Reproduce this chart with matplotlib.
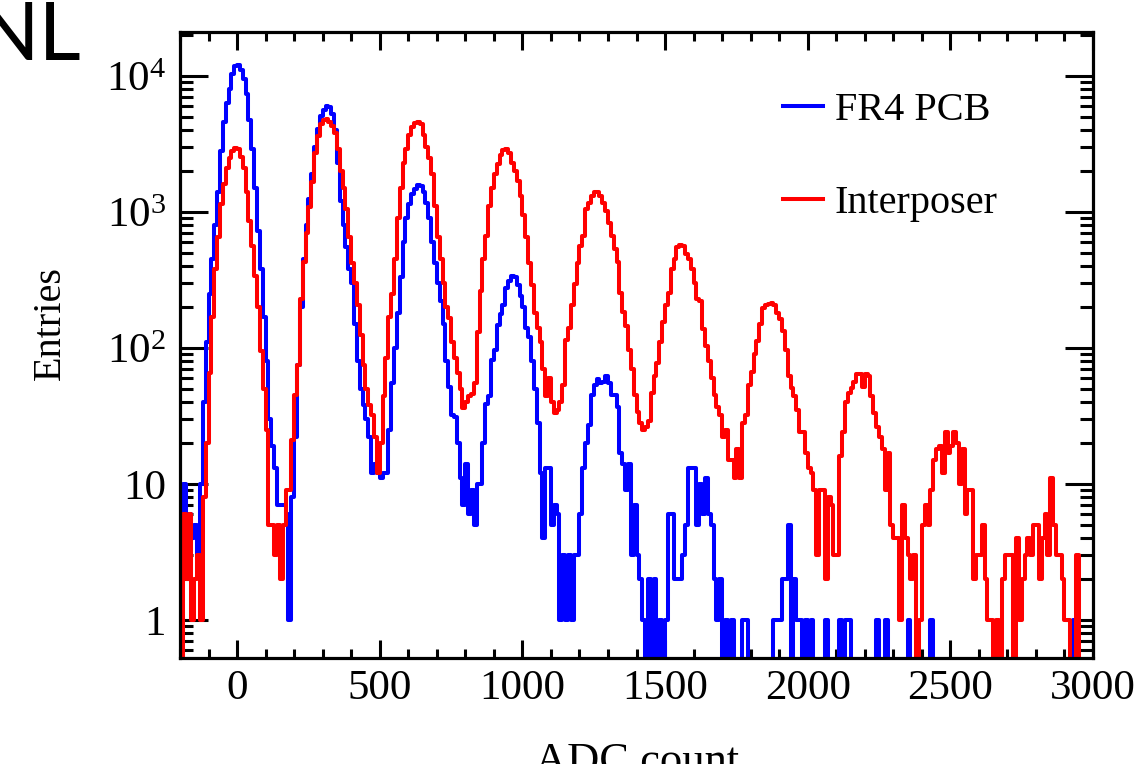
import numpy as np
import matplotlib
matplotlib.use("Agg")
import matplotlib.pyplot as plt
from matplotlib.ticker import MultipleLocator, LogLocator, NullFormatter

plt.rcParams['font.family'] = ['Liberation Serif', 'DejaVu Serif']
plt.rcParams['mathtext.fontset'] = 'custom'
plt.rcParams['mathtext.rm'] = 'Liberation Serif'
plt.rcParams['mathtext.it'] = 'Liberation Serif:italic'

# histogram binning (ADC count), 10 counts per bin
bin_edges = np.arange(-200, 3001, 10)

# entries per bin, one row = 100 ADC counts
fr4_counts = [
    2, 10, 3, 6, 4, 5, 3, 10, 40, 110,                      # -200
    250, 450, 800, 1400, 2800, 4600, 6300, 8000, 10300, 11800,  # -100
    12100, 11000, 9500, 7300, 4700, 2900, 1500, 720, 380, 170,  # 0
    80, 30, 19, 13, 7, 7, 7, 6, 1, 8,                       # 100
    22, 75, 200, 450, 800, 1250, 1900, 3000, 4100, 5100,    # 200
    5600, 6000, 5900, 5200, 4000, 2300, 1200, 800, 550, 380,  # 300
    300, 150, 80, 50, 38, 30, 22, 12, 14, 12,               # 400
    11, 12, 12, 25, 55, 100, 180, 330, 600, 900,            # 500
    1150, 1350, 1480, 1580, 1560, 1400, 1170, 900, 600, 420,  # 600
    300, 220, 150, 80, 52, 32, 31, 20, 11, 7,               # 700
    14, 6, 9, 5, 10, 10, 20, 39, 44, 81,                    # 800
    97, 147, 178, 208, 275, 310, 340, 330, 290, 240,        # 900
    200, 140, 120, 80, 50, 28, 12, 4, 13, 13,               # 1000
    5, 7, 6, 1, 3, 1, 3, 1, 3, 3,                           # 1100
    6, 13, 20, 27, 45, 53, 59, 55, 56, 62,                  # 1200
    55, 45, 45, 37, 17, 14, 9, 14, 3, 7,                    # 1300
    3, 2, 1, 0, 2, 0, 2, 0, 1, 0,                           # 1400
    1, 6, 6, 2, 2, 2, 3, 5, 13, 13,                         # 1500
    13, 5, 10, 6, 11, 6, 5, 2, 1, 2,                        # 1600
    0, 1, 0, 1, 0, 0, 0, 1, 1, 0,                           # 1700
    0, 0, 0, 0, 0, 0, 0, 0, 1, 1,                           # 1800
    1, 2, 2, 5, 0, 2, 1, 1, 0, 1,                           # 1900
    0, 1, 0, 0, 0, 0, 1, 0, 0, 0,                           # 2000
    0, 1, 0, 1, 1, 0, 0, 0, 0, 0,                           # 2100
    0, 0, 0, 0, 1, 0, 0, 1, 0, 0,                           # 2200
    0, 0, 0, 0, 0, 1, 0, 0, 0, 0,                           # 2300
    0, 0, 0, 1, 0, 0, 0, 0, 0, 0,                           # 2400
    0, 0, 0, 0, 0, 0, 0, 0, 0, 0,                           # 2500
    0, 0, 0, 0, 0, 0, 0, 0, 0, 0,                           # 2600
    0, 0, 0, 0, 0, 0, 0, 0, 0, 0,                           # 2700
    0, 0, 0, 0, 0, 0, 0, 0, 0, 0,                           # 2800
    0, 0, 0, 1, 0, 0, 0, 0, 0, 0,                           # 2900
]

interposer_counts = [
    0, 6, 2, 6, 1, 2, 3, 1, 8, 20,                          # -200
    65, 170, 380, 650, 1150, 1600, 2100, 2500, 2780, 2950,  # -100
    2900, 2550, 2100, 1400, 850, 560, 340, 200, 95, 50,     # 0
    25, 5, 5, 3, 5, 2, 5, 9, 9, 21,                         # 100
    45, 75, 230, 430, 700, 1080, 1650, 2700, 3600, 4400,    # 200
    4750, 4800, 4600, 4300, 3800, 2900, 2000, 1500, 1050, 650,  # 300
    420, 300, 205, 125, 75, 50, 38, 32, 22, 12,             # 400
    20, 44, 85, 170, 250, 450, 900, 1500, 2300, 2900,       # 500
    3700, 4200, 4500, 4560, 4400, 3700, 3000, 2500, 1900, 1100,  # 600
    650, 450, 300, 200, 167, 110, 85, 65, 50, 36,           # 700
    40, 44, 46, 55, 130, 260, 450, 670, 1100, 1500,         # 800
    1900, 2250, 2600, 2850, 2900, 2700, 2300, 2000, 1700, 1300,  # 900
    950, 650, 420, 290, 180, 140, 110, 70, 44, 60,          # 1000
    40, 33, 35, 40, 53, 115, 141, 205, 297, 420,            # 1100
    560, 670, 1050, 1170, 1310, 1390, 1390, 1310, 1170, 1020,  # 1200
    830, 660, 530, 425, 255, 183, 145, 97, 70, 45,          # 1300
    34, 28, 25, 26, 29, 47, 62, 78, 110, 156,               # 1400
    205, 255, 380, 450, 550, 575, 560, 490, 450, 380,       # 1500
    300, 228, 220, 138, 103, 80, 60, 45, 37, 32,            # 1600
    22, 25, 15, 15, 11, 18, 11, 28, 32, 53,                 # 1700
    66, 90, 112, 149, 198, 205, 210, 215, 205, 180,         # 1800
    162, 133, 97, 62, 51, 44, 35, 24, 24, 17,               # 1900
    13, 12, 9, 3, 9, 9, 2, 8, 7, 3,                         # 2000
    3, 16, 24, 40, 47, 51, 56, 64, 64, 52,                  # 2100
    64, 62, 44, 33, 26, 22, 18, 9, 17, 5,                   # 2200
    4, 4, 1, 7, 4, 3, 2, 3, 0, 1,                           # 2300
    5, 7, 5, 9, 15, 18, 19, 12, 24, 17,                     # 2400
    19, 24, 20, 10, 18, 6, 9, 9, 2, 3,                      # 2500
    3, 5, 2, 1, 1, 0, 1, 0, 2, 3,                           # 2600
    3, 3, 0, 4, 1, 2, 3, 4, 3, 5,                           # 2700
    5, 2, 4, 6, 3, 11, 5, 3, 3, 2,                          # 2800
    1, 1, 0, 0, 3, 0, 0, 0, 0, 0,                           # 2900
]

series_labels = ['FR4 PCB', 'Interposer']
series_colors = ['#0000ff', '#ff0000']

y_ticks = [1, 10, 100, 1000, 10000]
y_tick_labels = ['1', '10', '$10^{2}$', '$10^{3}$', '$10^{4}$']

fig = plt.figure(figsize=(11.4, 7.64), dpi=100)
ax = fig.add_axes([0.1579, 0.1387, 0.8009, 0.8194])

for counts, label, color in zip([fr4_counts, interposer_counts], series_labels, series_colors):
    y = np.append(np.array(counts, dtype=float), counts[-1])
    ax.step(bin_edges, y, where='post', color=color, lw=2.9, label=label)

ax.set_yscale('log', nonpositive='clip')
ax.set_xlim(-200, 3000)
ax.set_ylim(0.525, 2.1e4)

ax.xaxis.set_major_locator(MultipleLocator(500))
ax.xaxis.set_minor_locator(MultipleLocator(100))
ax.set_yticks(y_ticks, labels=y_tick_labels)
ax.yaxis.set_minor_locator(LogLocator(base=10, subs=np.arange(2, 10)))
ax.yaxis.set_minor_formatter(NullFormatter())

ax.tick_params(axis='both', which='both', direction='in', top=True, right=True,
               width=2.2, labelsize=31)
ax.tick_params(axis='x', which='major', length=13, pad=8)
ax.tick_params(axis='x', which='minor', length=6.5)
ax.tick_params(axis='y', which='major', length=20, pad=10)
ax.tick_params(axis='y', which='minor', length=9.5)
for s in ax.spines.values():
    s.set_linewidth(2.3)

fig.text(637 / 1140, -0.012, 'ADC count', fontsize=32, ha='center', va='baseline')
fig.text(50 / 1140, 1 - 323 / 764, 'Entries', fontsize=29, rotation=90,
         ha='center', va='center')

fig.text(-24 / 1140, 1 - 60 / 764, 'NL', family=['Lato', 'DejaVu Sans'],
         fontsize=59, ha='left', va='baseline')

leg = ax.legend(loc='upper left', bbox_to_anchor=(0.66, 0.905), frameon=False,
                fontsize=29, handlelength=1.0, handletextpad=0.3,
                labelspacing=1.4, borderpad=0, borderaxespad=0)

fig.savefig('out.png', dpi=100)
